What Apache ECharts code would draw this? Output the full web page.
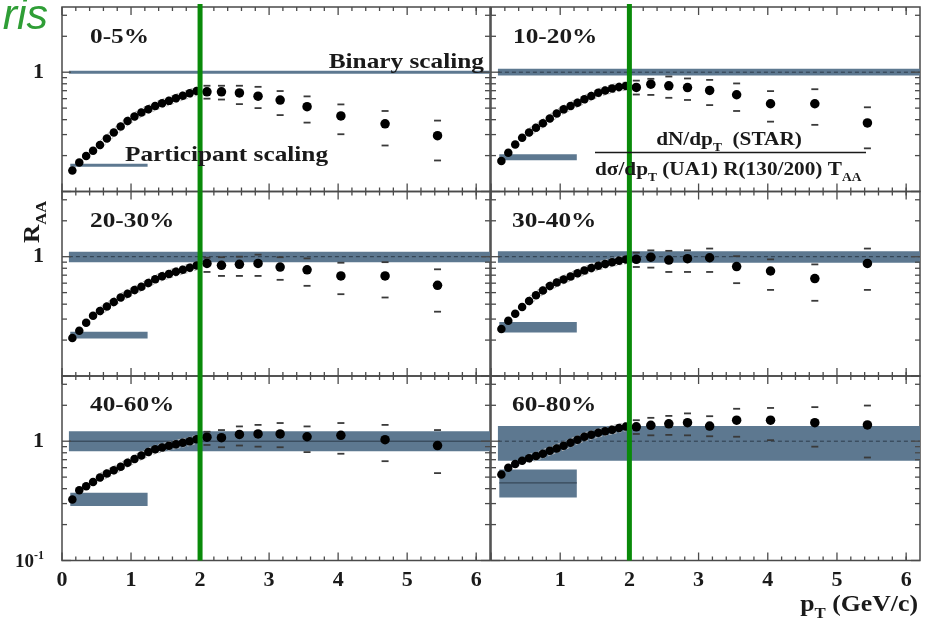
<!DOCTYPE html>
<html>
<head>
<meta charset="utf-8">
<script src="https://cdn.jsdelivr.net/npm/echarts@6/dist/echarts.min.js"></script>
<style>
  html, body { margin: 0; padding: 0; background: #fff; }
  #chart { width: 934px; height: 619px; }
</style>
</head>
<body>
<div id="chart"></div>
<script>
// ---- data: nuclear modification factor R_AA vs p_T, six centrality classes ----
const centralities = ['0-5%', '10-20%', '20-30%', '30-40%', '40-60%', '60-80%'];

const ptLow  = [0.15, 0.25, 0.35, 0.45, 0.55, 0.65, 0.75, 0.85, 0.95, 1.05,
                1.15, 1.25, 1.35, 1.45, 1.55, 1.65, 1.75, 1.85, 1.95];
const ptHigh = [2.1, 2.31, 2.57, 2.84, 3.16, 3.55, 4.04, 4.68, 5.44];

const raaLow_0_5   = [0.15, 0.175, 0.198, 0.22, 0.245, 0.278, 0.312, 0.35, 0.39, 0.425, 0.46, 0.49, 0.52, 0.548, 0.575, 0.605, 0.635, 0.665, 0.695];
const raaHigh_0_5  = [0.685, 0.685, 0.67, 0.63, 0.584, 0.514, 0.43, 0.369, 0.294];
const sysUp_0_5    = [0.77, 0.77, 0.77, 0.754, 0.695, 0.627, 0.537, 0.473, 0.393];
const sysDown_0_5  = [0.6, 0.59, 0.54, 0.5, 0.437, 0.378, 0.302, 0.243, 0.182];

const raaLow_10_20  = [0.18, 0.211, 0.248, 0.282, 0.313, 0.343, 0.374, 0.41, 0.45, 0.488, 0.522, 0.555, 0.592, 0.632, 0.672, 0.703, 0.73, 0.752, 0.768];
const raaHigh_10_20 = [0.745, 0.794, 0.769, 0.744, 0.703, 0.647, 0.544, 0.544, 0.376];
const sysUp_10_20   = [0.85, 0.88, 0.92, 0.886, 0.862, 0.805, 0.694, 0.72, 0.508];
const sysDown_10_20 = [0.65, 0.645, 0.61, 0.585, 0.53, 0.473, 0.385, 0.362, 0.23];

const raaLow_20_30  = [0.208, 0.24, 0.28, 0.32, 0.35, 0.383, 0.418, 0.455, 0.49, 0.525, 0.56, 0.603, 0.648, 0.685, 0.716, 0.748, 0.777, 0.808, 0.842];
const raaHigh_20_30 = [0.879, 0.846, 0.863, 0.879, 0.819, 0.776, 0.69, 0.69, 0.576];
const sysUp_20_30   = [0.98, 0.99, 1.0, 1.04, 0.99, 0.968, 0.89, 0.9, 0.784];
const sysDown_20_30 = [0.745, 0.69, 0.69, 0.69, 0.64, 0.57, 0.485, 0.455, 0.346];

const raaLow_30_40  = [0.248, 0.29, 0.332, 0.378, 0.425, 0.475, 0.522, 0.569, 0.607, 0.645, 0.683, 0.725, 0.765, 0.803, 0.84, 0.87, 0.9, 0.926, 0.948];
const raaHigh_30_40 = [0.95, 0.99, 0.937, 0.963, 0.98, 0.826, 0.759, 0.656, 0.879];
const sysUp_30_40   = [1.08, 1.13, 1.12, 1.13, 1.17, 1.01, 0.95, 0.862, 1.17];
const sysDown_30_40 = [0.82, 0.81, 0.745, 0.745, 0.745, 0.6, 0.527, 0.427, 0.527];

const raaLow_40_60  = [0.325, 0.388, 0.42, 0.455, 0.497, 0.535, 0.572, 0.612, 0.66, 0.71, 0.76, 0.81, 0.855, 0.885, 0.915, 0.942, 0.97, 1.0, 1.04];
const raaHigh_40_60 = [1.08, 1.07, 1.14, 1.15, 1.15, 1.09, 1.12, 1.03, 0.92];
const sysUp_40_60   = [1.2, 1.24, 1.33, 1.37, 1.42, 1.33, 1.42, 1.37, 1.24];
const sysDown_40_60 = [0.93, 0.89, 0.92, 0.9, 0.89, 0.81, 0.785, 0.68, 0.54];

const raaLow_60_80  = [0.525, 0.6, 0.645, 0.685, 0.718, 0.75, 0.785, 0.83, 0.87, 0.915, 0.97, 1.03, 1.09, 1.13, 1.175, 1.21, 1.25, 1.29, 1.33];
const raaHigh_60_80 = [1.32, 1.36, 1.4, 1.43, 1.34, 1.5, 1.5, 1.43, 1.37];
const sysUp_60_80   = [1.5, 1.57, 1.63, 1.71, 1.62, 1.87, 1.9, 1.93, 1.99];
const sysDown_60_80 = [1.15, 1.12, 1.13, 1.12, 1.1, 1.09, 1.02, 0.9, 0.73];

// binary-collision and participant scaling expectations (uncertainty bands)
const binaryLo      = [0.972, 0.94, 0.9, 0.89, 0.825, 0.687];
const binaryHi      = [1.03, 1.07, 1.1, 1.11, 1.21, 1.34];
const participantLo = [0.161, 0.183, 0.206, 0.231, 0.286, 0.338];
const participantHi = [0.171, 0.205, 0.235, 0.283, 0.369, 0.58];
const participantMid = [null, null, null, null, null, 0.447];
const bandPtRange        = [0.1, 6.2];
const participantPtRange = [0.12, 1.24];

// relative systematic uncertainty of the low-p_T spectrum
const lowPtSysFrac = 0.08;
const lowPtSysFrom = 0.55;

// p_T separating the soft and hard regions
const cutPt = 2;

// axis ticks
const xMajorTicks = [0, 1, 2, 3, 4, 5, 6];
const xMinorTicks = [0.2, 0.4, 0.6, 0.8, 1.2, 1.4, 1.6, 1.8, 2.2, 2.4, 2.6, 2.8, 3.2, 3.4, 3.6, 3.8,
                     4.2, 4.4, 4.6, 4.8, 5.2, 5.4, 5.6, 5.8, 6.0];
const yMajorTicks = [0.1, 1];
const yMinorTicks = [0.2, 0.3, 0.4, 0.5, 0.6, 0.7, 0.8, 0.9, 2, 3];
const xRange = [0, 6.2];
const yRange = [0.1, 3.52];

const raaLow  = [raaLow_0_5, raaLow_10_20, raaLow_20_30, raaLow_30_40, raaLow_40_60, raaLow_60_80];
const raaHigh = [raaHigh_0_5, raaHigh_10_20, raaHigh_20_30, raaHigh_30_40, raaHigh_40_60, raaHigh_60_80];
const sysUp   = [sysUp_0_5, sysUp_10_20, sysUp_20_30, sysUp_30_40, sysUp_40_60, sysUp_60_80];
const sysDown = [sysDown_0_5, sysDown_10_20, sysDown_20_30, sysDown_30_40, sysDown_40_60, sysDown_60_80];

// ---- layout & styles ----
const SERIF = '"Liberation Serif", "Times New Roman", serif';
const BAND = '#5d7890';
const BAND_LINE = '#2c3c4a';
const INK = '#1a1a1a';
const GREEN = '#098a09';
const colLeft = [62, 491];
const colWidth = [428, 429];
const rowTop = [7, 191.5, 376];
const rowHeight = 184.5;
// center line style of the binary band per panel
const binaryCenter = [null, 'dashed', 'dashed', 'dashed', 'solid', 'dashed'];

const grids = [], xAxes = [], yAxes = [], series = [];

function near(a, b) { return Math.abs(a - b) < 1e-6 * Math.max(1, Math.abs(b)); }

centralities.forEach((name, i) => {
  const col = i % 2, row = Math.floor(i / 2);
  grids.push({
    left: colLeft[col], top: rowTop[row], width: colWidth[col], height: rowHeight,
    show: true, borderColor: '#4a4a4a', borderWidth: 1.5, backgroundColor: 'transparent'
  });
  xAxes.push({
    type: 'value', gridIndex: i, min: xRange[0], max: xRange[1], interval: 1,
    axisLine: { show: false }, axisTick: { show: false }, splitLine: { show: false },
    axisLabel: {
      show: row === 2, margin: 9, color: INK,
      fontFamily: SERIF, fontWeight: 'bold', fontSize: 22,
      showMaxLabel: true, showMinLabel: true,
      formatter: v => {
        const k = Math.round(v);
        if (!near(v, k)) return '';
        if (col === 1 && k === 0) return '';
        return String(k);
      }
    }
  });
  yAxes.push({
    type: 'log', logBase: 10, gridIndex: i, min: yRange[0], max: yRange[1], interval: 1,
    axisLine: { show: false }, axisTick: { show: false }, splitLine: { show: false },
    axisLabel: {
      show: col === 0, margin: 18, color: INK,
      fontFamily: SERIF, fontWeight: 'bold', fontSize: 22,
      showMaxLabel: true, showMinLabel: true,
      formatter: v => {
        if (near(v, 1)) return '1';
        if (near(v, 0.1) && row === 2) return '{b|10}{s|-1}';
        return '';
      },
      rich: {
        b: { fontFamily: SERIF, fontSize: 19, fontWeight: 'bold', color: INK, lineHeight: 22, verticalAlign: 'bottom' },
        s: { fontFamily: SERIF, fontSize: 12, fontWeight: 'bold', color: INK, lineHeight: 22, verticalAlign: 'top', padding: [0, 0, 8, 0] }
      }
    }
  });

  // scaling bands
  const bandData = [
    { value: [bandPtRange[0], binaryLo[i], bandPtRange[1], binaryHi[i], 1], center: binaryCenter[i] },
    { value: [participantPtRange[0], participantLo[i], participantPtRange[1], participantHi[i],
              participantMid[i] == null ? NaN : participantMid[i]],
      center: participantMid[i] == null ? null : 'solid' }
  ];
  series.push({
    type: 'custom', xAxisIndex: i, yAxisIndex: i, z: 1, silent: true, clip: false,
    encode: { x: [0, 2], y: [1, 3] },
    data: bandData,
    renderItem: (params, api) => {
      const p1 = api.coord([api.value(0), api.value(3)]);
      const p2 = api.coord([api.value(2), api.value(1)]);
      const children = [{
        type: 'rect',
        shape: { x: p1[0], y: p1[1], width: p2[0] - p1[0], height: p2[1] - p1[1] },
        style: { fill: BAND }
      }];
      const center = bandData[params.dataIndex].center;
      if (center) {
        const yc = api.coord([api.value(0), api.value(4)])[1];
        children.push({
          type: 'line',
          shape: { x1: p1[0], y1: yc, x2: p2[0], y2: yc },
          style: { stroke: BAND_LINE, lineWidth: 1, lineDash: center === 'dashed' ? [4, 3] : null }
        });
      }
      return { type: 'group', children };
    }
  });

  // low-p_T systematic envelope
  const envPts = ptLow.map((p, k) => [p, raaLow[i][k]]).filter(d => d[0] >= lowPtSysFrom);
  [1 + lowPtSysFrac, 1 - lowPtSysFrac].forEach(f => {
    series.push({
      type: 'line', xAxisIndex: i, yAxisIndex: i, z: 2, silent: true,
      symbol: 'none', smooth: false,
      lineStyle: { color: '#b0b0b0', width: 1, type: [3, 2] },
      data: envPts.map(d => [d[0], d[1] * f])
    });
  });

  // systematic caps for high-p_T points
  series.push({
    type: 'custom', xAxisIndex: i, yAxisIndex: i, z: 3, silent: true,
    encode: { x: 0, y: [1, 2] },
    data: ptHigh.map((p, k) => [p, sysUp[i][k], sysDown[i][k]]),
    renderItem: (params, api) => {
      const up = api.coord([api.value(0), api.value(1)]);
      const dn = api.coord([api.value(0), api.value(2)]);
      const hw = 3.5;
      const st = { stroke: '#3a3a3a', lineWidth: 1.8 };
      return { type: 'group', children: [
        { type: 'line', shape: { x1: up[0] - hw, y1: up[1], x2: up[0] + hw, y2: up[1] }, style: st },
        { type: 'line', shape: { x1: dn[0] - hw, y1: dn[1], x2: dn[0] + hw, y2: dn[1] }, style: st }
      ]};
    }
  });

  // measured points
  series.push({
    type: 'scatter', xAxisIndex: i, yAxisIndex: i, z: 4, silent: true,
    symbol: 'circle', symbolSize: 8.5,
    itemStyle: { color: '#000', opacity: 1 },
    data: ptLow.map((p, k) => [p, raaLow[i][k]])
  });
  series.push({
    type: 'scatter', xAxisIndex: i, yAxisIndex: i, z: 4, silent: true,
    symbol: 'circle', symbolSize: 9.5,
    itemStyle: { color: '#000', opacity: 1 },
    data: ptHigh.map((p, k) => [p, raaHigh[i][k]])
  });

  // frame ticks on all four sides
  const tickData = []
    .concat(xMajorTicks.map(v => [v, 1, 0]))
    .concat(xMinorTicks.map(v => [v, 1, 1]))
    .concat(yMajorTicks.map(v => [1, v, 2]))
    .concat(yMinorTicks.map(v => [1, v, 3]));
  series.push({
    type: 'custom', xAxisIndex: i, yAxisIndex: i, z: 5, silent: true, clip: false,
    encode: { x: 0, y: 1 },
    data: tickData,
    renderItem: (params, api) => {
      const cs = params.coordSys;
      const kind = api.value(2);
      const st = { stroke: '#4a4a4a', lineWidth: 1.3 };
      if (kind < 2) {
        const px = api.coord([api.value(0), 1])[0];
        const len = kind === 0 ? 8 : 4;
        return { type: 'group', children: [
          { type: 'line', shape: { x1: px, y1: cs.y + cs.height, x2: px, y2: cs.y + cs.height - len }, style: st },
          { type: 'line', shape: { x1: px, y1: cs.y, x2: px, y2: cs.y + len }, style: st }
        ]};
      }
      const py = api.coord([1, api.value(1)])[1];
      const len = kind === 2 ? 9 : 5;
      return { type: 'group', children: [
        { type: 'line', shape: { x1: cs.x, y1: py, x2: cs.x + len, y2: py }, style: st },
        { type: 'line', shape: { x1: cs.x + cs.width, y1: py, x2: cs.x + cs.width - len, y2: py }, style: st }
      ]};
    }
  });

  // vertical marker at p_T = 2 GeV/c
  series.push({
    type: 'custom', xAxisIndex: i, yAxisIndex: i, z: 10, silent: true, clip: false,
    encode: { x: 0, y: 1 },
    data: [[cutPt, 1]],
    renderItem: (params, api) => {
      const cs = params.coordSys;
      const px = api.coord([api.value(0), 1])[0];
      const y0 = row === 0 ? cs.y - 3 : cs.y;
      return { type: 'line', shape: { x1: px, y1: y0, x2: px, y2: cs.y + cs.height },
               style: { stroke: GREEN, lineWidth: 5 } };
    }
  });
});

// ---- annotation texts ----
function label(text, x, y, opts) {
  opts = opts || {};
  return {
    type: 'text', x, y, z: 20, silent: true,
    scaleX: opts.scaleX || 1.15, rotation: opts.rotation || 0,
    style: {
      text, x: 0, y: 0,
      font: opts.font || ('bold 22px ' + SERIF),
      fill: opts.fill || INK,
      align: opts.align || 'left', textAlign: opts.align || 'left',
      verticalAlign: 'middle', textVerticalAlign: 'middle',
      rich: opts.rich
    }
  };
}
const panelLabelPos = [[90, 37], [513, 37], [90, 221], [512, 221], [90, 405], [512, 405]];
const subRich = {
  m: { fontFamily: SERIF, fontWeight: 'bold', fontSize: 19, color: INK, lineHeight: 24, verticalAlign: 'bottom' },
  s: { fontFamily: SERIF, fontWeight: 'bold', fontSize: 12, color: INK, lineHeight: 24, verticalAlign: 'bottom', padding: [0, 0, -4, 0] }
};
const bigRich = {
  m: { fontFamily: SERIF, fontWeight: 'bold', fontSize: 23, color: INK, lineHeight: 28, verticalAlign: 'bottom' },
  s: { fontFamily: SERIF, fontWeight: 'bold', fontSize: 15, color: INK, lineHeight: 28, verticalAlign: 'bottom', padding: [0, 0, -5, 0] }
};

const graphics = centralities.map((c, i) => label(c, panelLabelPos[i][0], panelLabelPos[i][1]));
graphics.push(label('Binary scaling', 484, 62, { align: 'right' }));
graphics.push(label('Participant scaling', 125, 155));
graphics.push(label('{m|dN/dp}{s|T}{m|  (STAR)}', 729, 138, { align: 'center', rich: subRich, scaleX: 1.12 }));
graphics.push({ type: 'line', z: 20, silent: true,
  shape: { x1: 595, y1: 152.5, x2: 866, y2: 152.5 }, style: { stroke: INK, lineWidth: 1.5 } });
graphics.push(label('{m|dσ/dp}{s|T}{m| (UA1) R(130/200) T}{s|AA}', 595, 168, { rich: subRich, scaleX: 1.12 }));
graphics.push(label('{m|R}{s|AA}', 31, 222, { rich: bigRich, rotation: Math.PI / 2, align: 'center', scaleX: 1.1 }));
graphics.push(label('{m|p}{s|T}{m| (GeV/c)}', 918, 603, { rich: bigRich, align: 'right', scaleX: 1.12 }));
graphics.push(label('ris', 48, 17, { font: 'italic 43px "Liberation Sans", Arial, sans-serif',
  fill: '#2f9e36', align: 'right', scaleX: 1 }));

const chart = echarts.init(document.getElementById('chart'), null, { renderer: 'canvas' });
chart.setOption({
  animation: false,
  backgroundColor: '#ffffff',
  grid: grids,
  xAxis: xAxes,
  yAxis: yAxes,
  series: series,
  graphic: { elements: graphics }
});
</script>
</body>
</html>
